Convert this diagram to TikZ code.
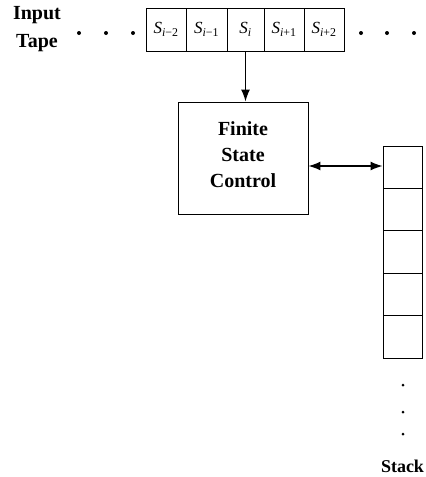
\documentclass[tikz,border=0pt]{standalone}
\usepackage{fontspec}
\setmainfont{Liberation Serif}
\usetikzlibrary{arrows.meta}
\begin{document}
\begin{tikzpicture}[x=1pt,y=-1pt,
  line width=0.9pt,
  cell/.style={draw, minimum height=43pt, inner sep=0pt, font=\fontsize{17}{17}\selectfont},
  scell/.style={draw, minimum width=39pt, minimum height=42.4pt, inner sep=0pt},
  lbl/.style={font=\bfseries\fontsize{20}{26}\selectfont, align=center, inner sep=0pt},
  dotn/.style={circle, fill, inner sep=0pt, minimum size=4pt},
  arr/.style={line width=1.4pt, -{Latex[length=12pt,width=9pt]}},
  darr/.style={line width=1.4pt, {Latex[length=12pt,width=9pt]}-{Latex[length=12pt,width=9pt]}}]
\useasboundingbox (0,0) rectangle (426,477);
% input tape
\node[lbl, font=\bfseries\fontsize{20}{28}\selectfont] (inlbl) at (37,29) {Input\\Tape};
\node[dotn] (l1) at (79,33) {};
\node[dotn] (l2) at (106,33) {};
\node[dotn] (l3) at (133,33) {};
\node[cell, minimum width=40pt] (c1) at (166,29.5) {\textit{S}\textsubscript{\textit{i}−2}};
\node[cell, minimum width=41pt] (c2) at (206.5,29.5) {\textit{S}\textsubscript{\textit{i}−1}};
\node[cell, minimum width=37pt] (c3) at (245.5,29.5) {\textit{S}\textsubscript{\textit{i}}};
\node[cell, minimum width=40pt] (c4) at (284,29.5) {\textit{S}\textsubscript{\textit{i}+1}};
\node[cell, minimum width=40pt] (c5) at (324,29.5) {\textit{S}\textsubscript{\textit{i}+2}};
\node[dotn] (r1) at (361,33) {};
\node[dotn] (r2) at (387,33) {};
\node[dotn] (r3) at (414,33) {};
% finite state control
\node[draw, minimum width=130pt, minimum height=112pt, inner sep=0pt] (fsc) at (243,158) {};
\node[lbl] (fsclbl) at (243,155) {Finite\\State\\Control};
\draw[arr] (c3.south) -- (c3.south |- fsc.north);
% stack
\node[scell] (s1) at (402.5,167.2) {};
\node[scell] (s2) at (402.5,209.6) {};
\node[scell] (s3) at (402.5,252.0) {};
\node[scell] (s4) at (402.5,294.4) {};
\node[scell] (s5) at (402.5,336.8) {};
\coordinate (fscr) at (fsc.east |- 0,166);
\draw[darr] (fscr) -- (fscr -| s1.west);
\node[dotn, minimum size=3pt] (d1) at (403,385) {};
\node[dotn, minimum size=3pt] (d2) at (403,412) {};
\node[dotn, minimum size=3pt] (d3) at (403,434) {};
\node[lbl, font=\bfseries\fontsize{18}{18}\selectfont] (stlbl) at (402.5,466) {Stack};
\end{tikzpicture}
\end{document}
